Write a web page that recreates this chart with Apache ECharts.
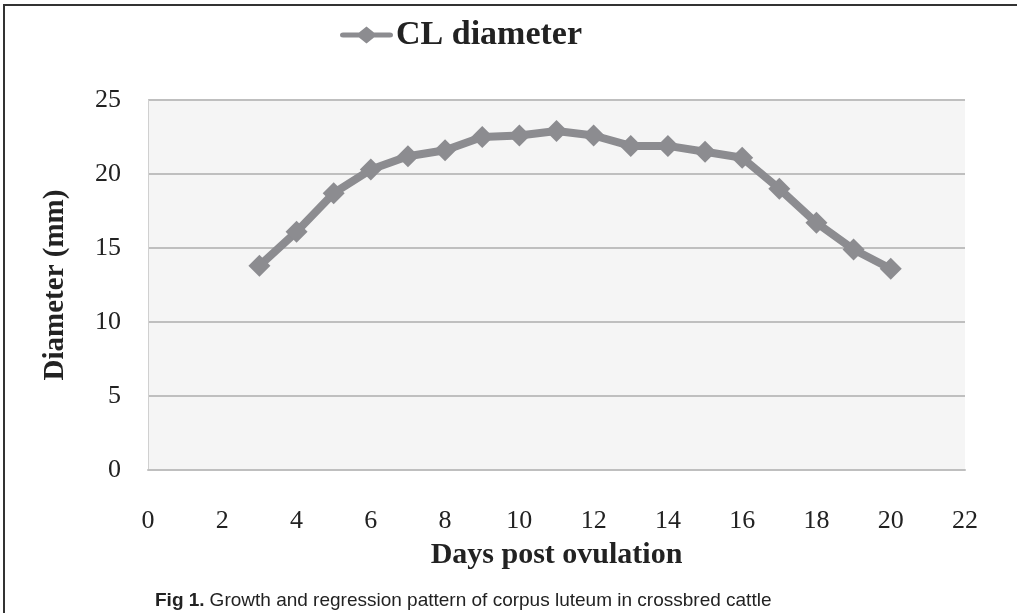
<!DOCTYPE html>
<html>
<head>
<meta charset="utf-8">
<script src="https://cdn.jsdelivr.net/npm/echarts@6/dist/echarts.min.js"></script>
<style>
  html, body { margin: 0; padding: 0; background: #fff; }
  #main { width: 1017px; height: 613px; }
</style>
</head>
<body>
<div id="main"></div>
<script>
// days post ovulation and CL diameter (mm)
var days = [3, 4, 5, 6, 7, 8, 9, 10, 11, 12, 13, 14, 15, 16, 17, 18, 19, 20];
var diameter = [13.8, 16.1, 18.7, 20.3, 21.2, 21.6, 22.5, 22.6, 22.9, 22.6, 21.9, 21.9, 21.5, 21.1, 19.0, 16.7, 14.9, 13.6];
var seriesName = 'CL diameter';
var caption = 'Growth and regression pattern of corpus luteum in crossbred cattle';

var serif = 'Liberation Serif';
var lineColor = '#8c8c90';
var gridColor = '#bfbfbf';

var points = days.map(function (d, i) { return [d, diameter[i]]; });

// legend marker: thick line with a diamond in the middle
var legendIcon = 'path://M3,6 L19,6 L26.5,0 L34,6 L50,6 Q53,6 53,8.5 Q53,11 50,11 L34,11 L26.5,17 L19,11 L3,11 Q0,11 0,8.5 Q0,6 3,6 Z';

var chart = echarts.init(document.getElementById('main'));
var option = {
  backgroundColor: '#fff',
  animation: false,
  graphic: [
    {
      type: 'rect',
      shape: { x: 4, y: 5, width: 1030, height: 630 },
      style: { fill: 'none', stroke: '#333', lineWidth: 2 }
    }
  ],
  title: {
    text: '{b|Fig 1.} {n|' + caption + '}',
    left: 150,
    top: 586,
    textStyle: {
      rich: {
        b: { fontFamily: 'Liberation Sans', fontWeight: 'bold', fontSize: 19, color: '#222' },
        n: { fontFamily: 'Liberation Sans', fontWeight: 'normal', fontSize: 19, color: '#222' }
      }
    }
  },
  legend: {
    left: 335,
    top: 13,
    itemWidth: 53,
    itemHeight: 17,
    itemGap: 4,
    data: [{ name: seriesName, icon: legendIcon }],
    itemStyle: { color: lineColor },
    textStyle: {
      fontFamily: serif,
      fontWeight: 'bold',
      fontSize: 34,
      color: '#222',
      padding: [0, 0, 0, -2]
    }
  },
  grid: {
    left: 148,
    right: 52,
    top: 100,
    bottom: 143,
    show: true,
    backgroundColor: '#f5f5f5',
    borderWidth: 0
  },
  xAxis: {
    type: 'value',
    min: 0,
    max: 22,
    interval: 2,
    name: 'Days post ovulation',
    nameLocation: 'middle',
    nameGap: 70,
    nameTextStyle: { fontFamily: serif, fontWeight: 'bold', fontSize: 30, color: '#222' },
    axisLine: { show: true, lineStyle: { color: gridColor, width: 2 } },
    axisTick: { show: false },
    splitLine: { show: false },
    axisLabel: { fontFamily: serif, fontSize: 26, color: '#222', margin: 38 }
  },
  yAxis: {
    type: 'value',
    min: 0,
    max: 25,
    interval: 5,
    name: 'Diameter (mm)',
    nameLocation: 'middle',
    nameGap: 78,
    nameTextStyle: { fontFamily: serif, fontWeight: 'bold', fontSize: 29, color: '#222' },
    axisLine: { show: true, lineStyle: { color: '#d0d0d0', width: 1 } },
    axisTick: { show: false },
    splitLine: { show: true, lineStyle: { color: gridColor, width: 2 } },
    axisLabel: { fontFamily: serif, fontSize: 26, color: '#222', margin: 27 }
  },
  series: [
    {
      name: seriesName,
      type: 'line',
      data: points,
      symbol: 'diamond',
      symbolSize: 22,
      color: lineColor,
      lineStyle: { color: lineColor, width: 8 },
      itemStyle: { color: lineColor }
    }
  ]
};
chart.setOption(option);
</script>
</body>
</html>
